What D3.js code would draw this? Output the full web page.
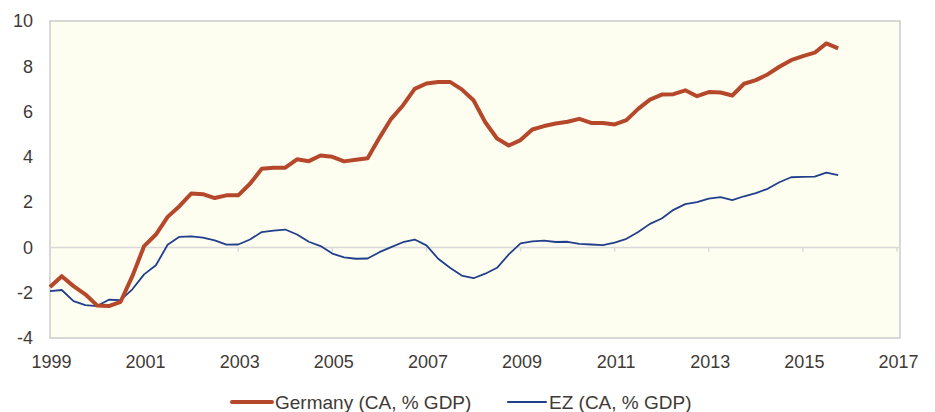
<!DOCTYPE html>
<html>
<head>
<meta charset="utf-8">
<script src="https://cdn.jsdelivr.net/npm/d3@7"></script>
<style>
  html, body { margin: 0; padding: 0; background: #fff; }
  svg { display: block; font-family: "Liberation Sans", Arial, sans-serif; }
  .tick-label { fill: #3f3a36; font-size: 18px; }
  .legend-label { fill: #3f3a36; font-size: 19px; }
</style>
</head>
<body>
<svg id="chart" width="935" height="412"></svg>
<script>
// Current account balance, % of GDP, quarterly 1999Q1 .. 2015Q4
const START_YEAR = 1999;
const germany = [
  -1.75, -1.27, -1.71, -2.07, -2.56, -2.59, -2.40, -1.27,
  0.06, 0.57, 1.35, 1.82, 2.38, 2.35, 2.18, 2.30,
  2.30, 2.81, 3.47, 3.52, 3.52, 3.89, 3.81, 4.06,
  4.00, 3.80, 3.87, 3.94, 4.84, 5.68, 6.27, 7.00,
  7.24, 7.31, 7.31, 6.98, 6.50, 5.53, 4.81, 4.50,
  4.74, 5.21, 5.36, 5.47, 5.55, 5.68, 5.50, 5.50,
  5.43, 5.62, 6.12, 6.53, 6.75, 6.77, 6.94, 6.68,
  6.86, 6.84, 6.71, 7.23, 7.39, 7.64, 7.98, 8.27,
  8.45, 8.60, 9.01, 8.79
];
const ez = [
  -1.93, -1.88, -2.37, -2.55, -2.59, -2.31, -2.33, -1.85,
  -1.19, -0.79, 0.12, 0.47, 0.49, 0.43, 0.31, 0.12,
  0.13, 0.35, 0.68, 0.74, 0.79, 0.57, 0.25, 0.06,
  -0.27, -0.44, -0.50, -0.49, -0.21, 0.01, 0.23, 0.35,
  0.09, -0.50, -0.90, -1.24, -1.36, -1.16, -0.90, -0.31,
  0.18, 0.27, 0.30, 0.24, 0.25, 0.16, 0.13, 0.10,
  0.21, 0.38, 0.68, 1.04, 1.28, 1.66, 1.91, 2.00,
  2.16, 2.22, 2.09, 2.26, 2.40, 2.59, 2.88, 3.10,
  3.12, 3.13, 3.30, 3.19
];
const xTicks = [1999, 2001, 2003, 2005, 2007, 2009, 2011, 2013, 2015, 2017];
const yTicks = [-4, -2, 0, 2, 4, 6, 8, 10];
const seriesNames = ["Germany (CA, % GDP)", "EZ (CA, % GDP)"];

const PLOT = { left: 50, right: 900, top: 21, bottom: 338 };
const GER_COLOR = "#b5482a";
const EZ_COLOR = "#223f8c";

const svg = d3.select("#chart");

const x = d3.scaleLinear().domain([1999, 2017]).range([PLOT.left, 897]);
const y = d3.scaleLinear().domain([-4, 10]).range([PLOT.bottom, PLOT.top]);

const toPoints = (vals) => vals.map((v, i) => ({ t: START_YEAR + i / 4, v }));

// ---- plot background + frame ----
svg.append("rect")
  .attr("x", PLOT.left)
  .attr("y", PLOT.top)
  .attr("width", PLOT.right - PLOT.left)
  .attr("height", PLOT.bottom - PLOT.top)
  .attr("fill", "#fdfdf0")
  .attr("stroke", "#cbcbcb")
  .attr("stroke-width", 1.5);

// ---- zero line with year ticks hanging below it ----
svg.append("line")
  .attr("x1", PLOT.left).attr("x2", PLOT.right)
  .attr("y1", y(0)).attr("y2", y(0))
  .attr("stroke", "#d9d9d9")
  .attr("stroke-width", 1.5);

svg.append("g")
  .selectAll("line")
  .data(xTicks.slice(1))
  .join("line")
  .attr("x1", (d) => x(d)).attr("x2", (d) => x(d))
  .attr("y1", y(0)).attr("y2", y(0) + 4)
  .attr("stroke", "#d9d9d9")
  .attr("stroke-width", 1.5);

// ---- tick labels ----
svg.append("g")
  .selectAll("text")
  .data(yTicks)
  .join("text")
  .attr("class", "tick-label")
  .attr("x", 33)
  .attr("y", (d) => y(d))
  .attr("dy", "0.35em")
  .attr("text-anchor", "end")
  .text((d) => d);

svg.append("g")
  .selectAll("text")
  .data(xTicks)
  .join("text")
  .attr("class", "tick-label")
  .attr("x", (d) => x(d) + 1.5)
  .attr("y", 362)
  .attr("dy", "0.35em")
  .attr("text-anchor", "middle")
  .text((d) => d);

// ---- series ----
const line = d3.line()
  .x((d) => x(d.t))
  .y((d) => y(d.v));

svg.append("path")
  .datum(toPoints(ez))
  .attr("fill", "none")
  .attr("stroke", EZ_COLOR)
  .attr("stroke-width", 1.8)
  .attr("stroke-linejoin", "round")
  .attr("d", line);

svg.append("path")
  .datum(toPoints(germany))
  .attr("fill", "none")
  .attr("stroke", GER_COLOR)
  .attr("stroke-width", 4)
  .attr("stroke-linejoin", "round")
  .attr("d", line);

// ---- legend ----
const legend = [
  { name: seriesNames[0], color: GER_COLOR, w: 4, x0: 232, x1: 272 },
  { name: seriesNames[1], color: EZ_COLOR, w: 2, x0: 508, x1: 546 }
];
const LEG_Y = 402;
const gLeg = svg.append("g");
gLeg.selectAll("line")
  .data(legend)
  .join("line")
  .attr("x1", (d) => d.x0).attr("x2", (d) => d.x1)
  .attr("y1", LEG_Y).attr("y2", LEG_Y)
  .attr("stroke", (d) => d.color)
  .attr("stroke-width", (d) => d.w)
  .attr("stroke-linecap", "round");
gLeg.selectAll("text")
  .data(legend)
  .join("text")
  .attr("class", "legend-label")
  .attr("x", (d) => d.x1 + 3)
  .attr("y", LEG_Y)
  .attr("dy", "0.35em")
  .text((d) => d.name);
</script>
</body>
</html>
